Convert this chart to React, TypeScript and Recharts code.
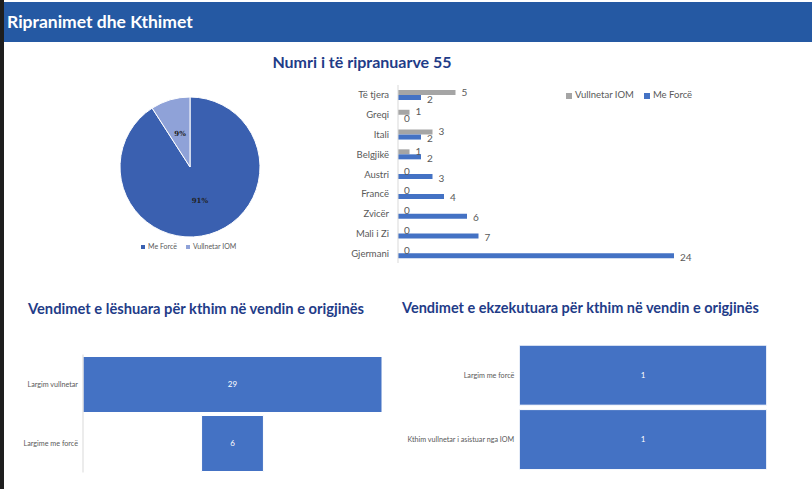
import React from 'react';
import { BarChart, Bar, XAxis, YAxis, LabelList, PieChart, Pie, Cell } from 'recharts';

// pie: share of returns by type
const shareNames = ['Me Forcë', 'Vullnetar IOM'];
const shareValues = [50, 5];
const shareColors = ['#3a60b0', '#8fa2d8'];

// readmissions by country
const countries = ['Të tjera', 'Greqi', 'Itali', 'Belgjikë', 'Austri', 'Francë', 'Zvicër', 'Mali i Zi', 'Gjermani'];
const voluntaryIom = [5, 1, 3, 1, 0, 0, 0, 0, 0];
const forced = [2, 0, 2, 2, 3, 4, 6, 7, 24];

// decisions issued / executed
const issuedLabels = ['Largim vullnetar', 'Largime me forcë'];
const issuedValues = [29, 6];
const executedLabels = ['Largim me forcë', 'Kthim vullnetar i asistuar nga IOM'];
const executedValues = [1, 1];

const BLUE = '#4472c4';
const GREY = '#a5a5a5';
const TEXT = '#595959';
const TITLE = '#1f3c88';

const pieData = shareNames.map((name, i) => ({ name, value: shareValues[i] }));
const countryData = countries.map((name, i) => ({ name, iom: voluntaryIom[i], force: forced[i] }));

const renderPieLabel = (p: any) => {
  const RAD = Math.PI / 180;
  const r = p.outerRadius * 0.5;
  const x = p.cx + r * Math.cos(-p.midAngle * RAD);
  const y = p.cy + r * Math.sin(-p.midAngle * RAD);
  return (
    <text x={x} y={y} textAnchor="middle" dominantBaseline="central" fontSize={7} fontWeight="bold" fill="#222" fontFamily="DejaVu Serif">
      {Math.round(p.percent * 100)}%
    </text>
  );
};

// plain tick text, no wrapping (p.x already sits 8px left of the axis)
const makeTick = (size: number, gap: number) => (p: any) => (
  <text x={p.x - gap} y={p.y} textAnchor="end" dominantBaseline="central" fontSize={size} fill={TEXT} fontFamily="Lato">
    {p.payload.value}
  </text>
);

// value label that is also drawn for zero-length bars
const makeValueLabel = (dy: number) => (p: any) => (
  <text x={p.x + p.width + 6} y={p.y + p.height / 2 + dy} dominantBaseline="central" fontSize={10} fill={TEXT} fontFamily="Lato">
    {p.value}
  </text>
);

function CenteredBars({ labels, values, width, height, margin, yWidth, barSize, showAxis, style }: any) {
  const data = labels.map((name: string, i: number) => ({ name, value: values[i] }));
  const max = Math.max(...values);
  return (
    <div style={style}>
      <BarChart layout="vertical" width={width} height={height} data={data} margin={margin}>
        <XAxis type="number" hide domain={[-max / 2, max / 2]} />
        <YAxis
          type="category"
          dataKey="name"
          width={yWidth}
          interval={0}
          tickLine={false}
          axisLine={showAxis ? { stroke: '#d9d9d9' } : false}
          tick={makeTick(7.2, -3)}
        />
        <Bar
          dataKey={(d: any) => [-d.value / 2, d.value / 2]}
          barSize={barSize}
          fill={BLUE}
          stroke="#ffffff"
          strokeWidth={1}
          isAnimationActive={false}
        >
          <LabelList dataKey="value" position="center" fill="#ffffff" fontSize={8} fontFamily="Lato" />
        </Bar>
      </BarChart>
    </div>
  );
}

const sq = (c: string, s: number) => (
  <span style={{ display: 'inline-block', width: s, height: s, background: c, marginRight: 3, verticalAlign: 'middle' }} />
);

export default function App() {
  return (
    <div style={{ position: 'absolute', left: 0, top: 0, width: 812, height: 489, background: '#fff', overflow: 'hidden', fontFamily: 'Lato' }}>
      <div style={{ position: 'absolute', left: 0, top: 0, width: 4, height: 489, background: '#1e1e1e' }} />
      <div style={{ position: 'absolute', left: 4, top: 2, width: 808, height: 40, background: '#2559a3', color: '#fff', fontWeight: 700, fontSize: 17.5, lineHeight: '40px', paddingLeft: 3, boxSizing: 'border-box' }}>
        Ripranimet dhe Kthimet
      </div>

      <div style={{ position: 'absolute', left: 200, top: 51, width: 324, textAlign: 'center', color: TITLE, fontWeight: 700, fontSize: 16, lineHeight: '22px' }}>
        Numri i të ripranuarve 55
      </div>

      <div style={{ position: 'absolute', left: 100, top: 80 }}>
        <PieChart width={170} height={160}>
          <Pie
            data={pieData}
            dataKey="value"
            nameKey="name"
            cx={85}
            cy={82}
            outerRadius={70}
            startAngle={90}
            endAngle={-270}
            stroke="#ffffff"
            strokeWidth={1}
            label={renderPieLabel}
            labelLine={false}
            isAnimationActive={false}
          >
            {pieData.map((d, i) => (
              <Cell key={d.name} fill={shareColors[i]} />
            ))}
          </Pie>
        </PieChart>
      </div>
      <div style={{ position: 'absolute', left: 141, top: 241, fontSize: 7, color: TEXT, whiteSpace: 'nowrap', lineHeight: '10px' }}>
        {sq(shareColors[0], 4)}Me Forcë
        <span style={{ marginLeft: 9 }}>{sq(shareColors[1], 4)}Vullnetar IOM</span>
      </div>

      <div style={{ position: 'absolute', left: 300, top: 75 }}>
        <BarChart layout="vertical" width={420} height={200} data={countryData} margin={{ top: 10, right: 46, bottom: 12, left: 0 }} barSize={5} barGap={0}>
          <XAxis type="number" hide domain={[0, 24]} />
          <YAxis
            type="category"
            dataKey="name"
            width={98}
            interval={0}
            tickLine={false}
            axisLine={{ stroke: '#d9d9d9' }}
            tick={makeTick(9.5, 1)}
          />
          <Bar dataKey="iom" fill={GREY} minPointSize={0.05} isAnimationActive={false}>
            <LabelList dataKey="iom" content={makeValueLabel(-1)} />
          </Bar>
          <Bar dataKey="force" fill={BLUE} minPointSize={0.05} isAnimationActive={false}>
            <LabelList dataKey="force" content={makeValueLabel(1)} />
          </Bar>
        </BarChart>
      </div>
      <div style={{ position: 'absolute', left: 566, top: 89, fontSize: 9.5, color: TEXT, whiteSpace: 'nowrap', lineHeight: '12px' }}>
        {sq(GREY, 6)}Vullnetar IOM
        <span style={{ marginLeft: 10 }}>{sq(BLUE, 6)}Me Forcë</span>
      </div>

      <div style={{ position: 'absolute', left: 28, top: 297, color: TITLE, fontWeight: 700, fontSize: 14.7, lineHeight: '22px', whiteSpace: 'nowrap' }}>
        Vendimet e lëshuara për kthim në vendin e origjinës
      </div>
      <CenteredBars
        labels={issuedLabels}
        values={issuedValues}
        width={400}
        height={140}
        margin={{ top: 9.5, right: 18, bottom: 12.5, left: 0 }}
        yWidth={83}
        barSize={56}
        showAxis
        style={{ position: 'absolute', left: 0, top: 345 }}
      />

      <div style={{ position: 'absolute', left: 402, top: 297, color: TITLE, fontWeight: 700, fontSize: 14.5, lineHeight: '22px', whiteSpace: 'nowrap' }}>
        Vendimet e ekzekutuara për kthim në vendin e origjinës
      </div>
      <CenteredBars
        labels={executedLabels}
        values={executedValues}
        width={412}
        height={145}
        margin={{ top: 8.2, right: 45.3, bottom: 8, left: 0 }}
        yWidth={119.3}
        barSize={60}
        showAxis={false}
        style={{ position: 'absolute', left: 400, top: 335 }}
      />
    </div>
  );
}
